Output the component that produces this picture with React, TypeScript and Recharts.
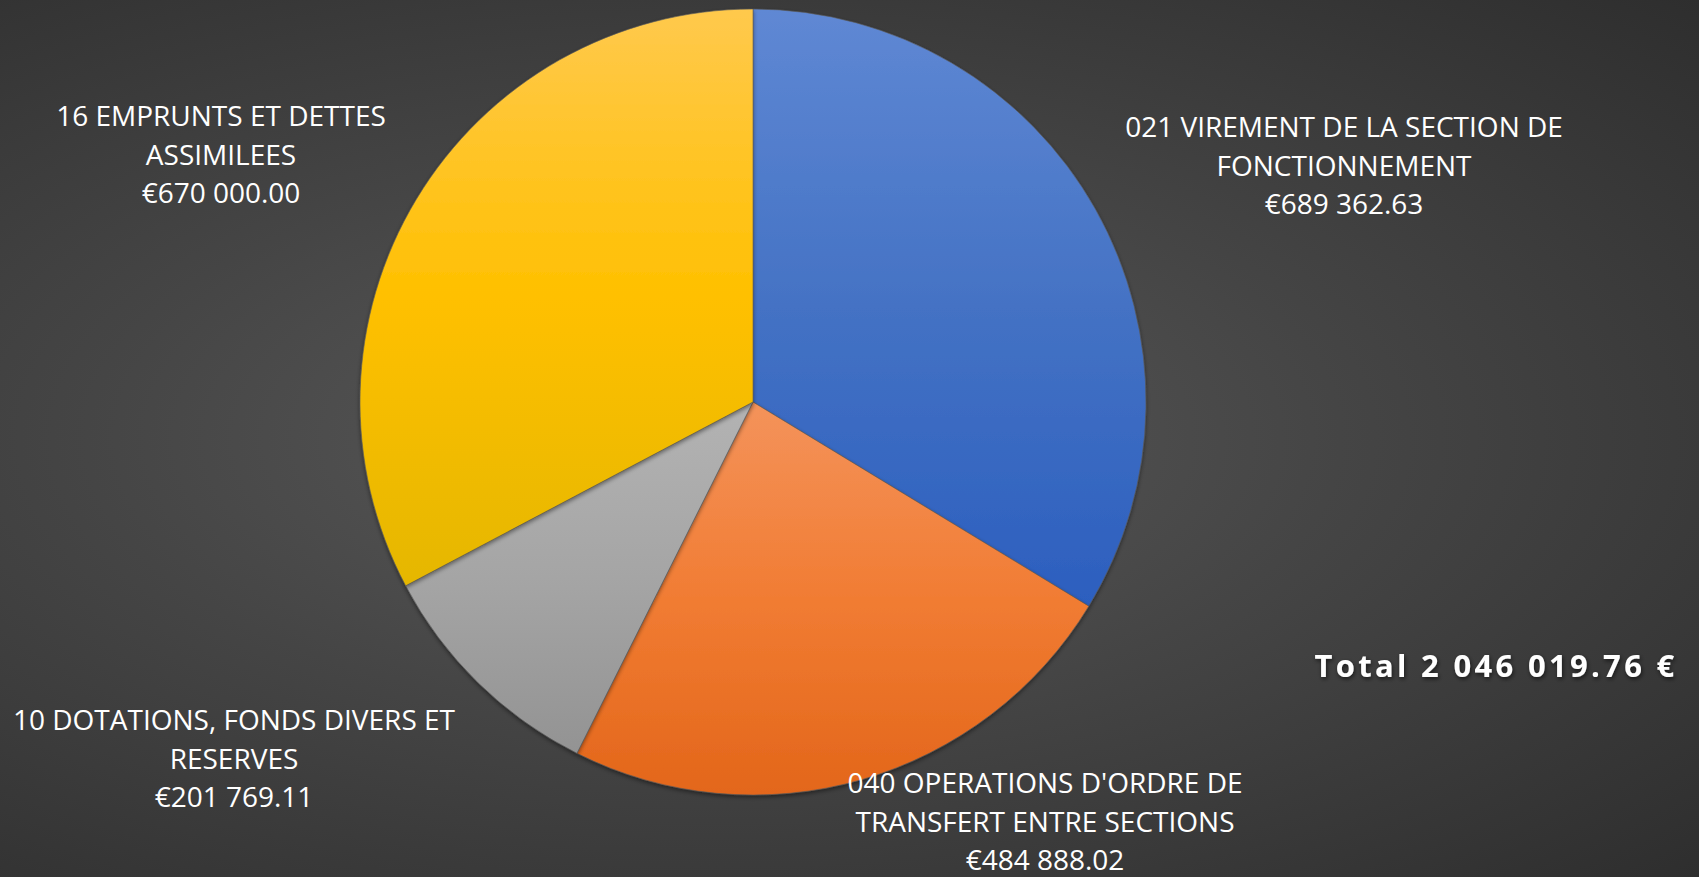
import React from "react";
import { PieChart, Pie, Cell } from "recharts";

const categories = [
  "021 VIREMENT DE LA SECTION DE|FONCTIONNEMENT",
  "040 OPERATIONS D'ORDRE DE|TRANSFERT ENTRE SECTIONS",
  "10 DOTATIONS, FONDS DIVERS ET|RESERVES",
  "16 EMPRUNTS ET DETTES|ASSIMILEES",
];
const values = [689362.63, 484888.02, 201769.11, 670000.0];

// layout (not data): label anchor offsets from pie centre
const labelOffsets = [
  { dx: 591, dy: -265 },
  { dx: 292, dy: 391 },
  { dx: -519, dy: 328 },
  { dx: -532, dy: -276 },
];
const gradients = [
  ["#5F88D4", "#4472C4", "#2C5FBF"],
  ["#F4935B", "#F17C33", "#E3661A"],
  ["#B3B3B3", "#A5A5A5", "#939393"],
  ["#FFC94D", "#FFC000", "#E5B700"],
];

const W = 1699;
const H = 877;
const FONT = "'Open Sans', 'Noto Sans', sans-serif";

function fmt(v: number): string {
  const [i, d] = v.toFixed(2).split(".");
  return i.replace(/\B(?=(\d{3})+(?!\d))/g, " ") + "." + d;
}

const data = categories.map((c, i) => ({ name: c, value: values[i] }));
const total = values.reduce((a, b) => a + b, 0);

const renderLabel = (props: any) => {
  const { cx, cy, index, name, value } = props;
  const off = labelOffsets[index];
  const lines = String(name).split("|").concat(["€" + fmt(value)]);
  const x = cx + off.dx;
  const y = cy + off.dy;
  return (
    <text
      x={x}
      y={y}
      fill="#FFFFFF"
      textAnchor="middle"
      fontFamily={FONT}
      fontSize={28}
    >
      {lines.map((l, k) => (
        <tspan key={k} x={x} dy={k === 0 ? 0 : 38.7}>
          {l}
        </tspan>
      ))}
    </text>
  );
};

export default function App() {
  return (
    <div
      style={{
        position: "absolute",
        left: 0,
        top: 0,
        width: W,
        height: H,
        background:
          "radial-gradient(ellipse farthest-corner at 42% 50%, #5a5a5a 0%, #454545 45%, #2e2e2e 100%)",
        overflow: "hidden",
      }}
    >
      <PieChart width={W} height={H} margin={{ top: 0, right: 0, bottom: 0, left: 0 }}>
        <defs>
          {gradients.map((g, i) => (
            <linearGradient key={i} id={`g${i}`} x1="0" y1="0" x2="0" y2="1">
              <stop offset="0%" stopColor={g[0]} />
              <stop offset="50%" stopColor={g[1]} />
              <stop offset="100%" stopColor={g[2]} />
            </linearGradient>
          ))}
          <filter id="shadow" x="-10%" y="-10%" width="120%" height="120%">
            <feDropShadow dx="0" dy="2" stdDeviation="2" floodColor="#000" floodOpacity="0.45" />
          </filter>
        </defs>
        <Pie
          data={data}
          dataKey="value"
          nameKey="name"
          cx={753}
          cy={402}
          innerRadius={0}
          outerRadius={393}
          startAngle={90}
          endAngle={-270}
          isAnimationActive={false}
          label={renderLabel}
          labelLine={false}
          stroke="rgba(90,90,90,0.6)"
          strokeWidth={1}
        >
          {data.map((d, i) => (
            <Cell key={i} fill={`url(#g${i})`} filter="url(#shadow)" />
          ))}
        </Pie>
      </PieChart>
      <svg
        width={W}
        height={H}
        style={{ position: "absolute", left: 0, top: 0, pointerEvents: "none" }}
      >
        <defs>
          <filter id="tshadow" x="-10%" y="-30%" width="120%" height="160%">
            <feDropShadow dx="1" dy="2" stdDeviation="2" floodColor="#000" floodOpacity="0.6" />
          </filter>
        </defs>
        <text
          x={1496}
          y={677}
          textAnchor="middle"
          fill="#FFFFFF"
          fontFamily={FONT}
          fontWeight={700}
          fontSize={31}
          letterSpacing={3.3}
          filter="url(#tshadow)"
        >
          {"Total " + fmt(total) + " €"}
        </text>
      </svg>
    </div>
  );
}
